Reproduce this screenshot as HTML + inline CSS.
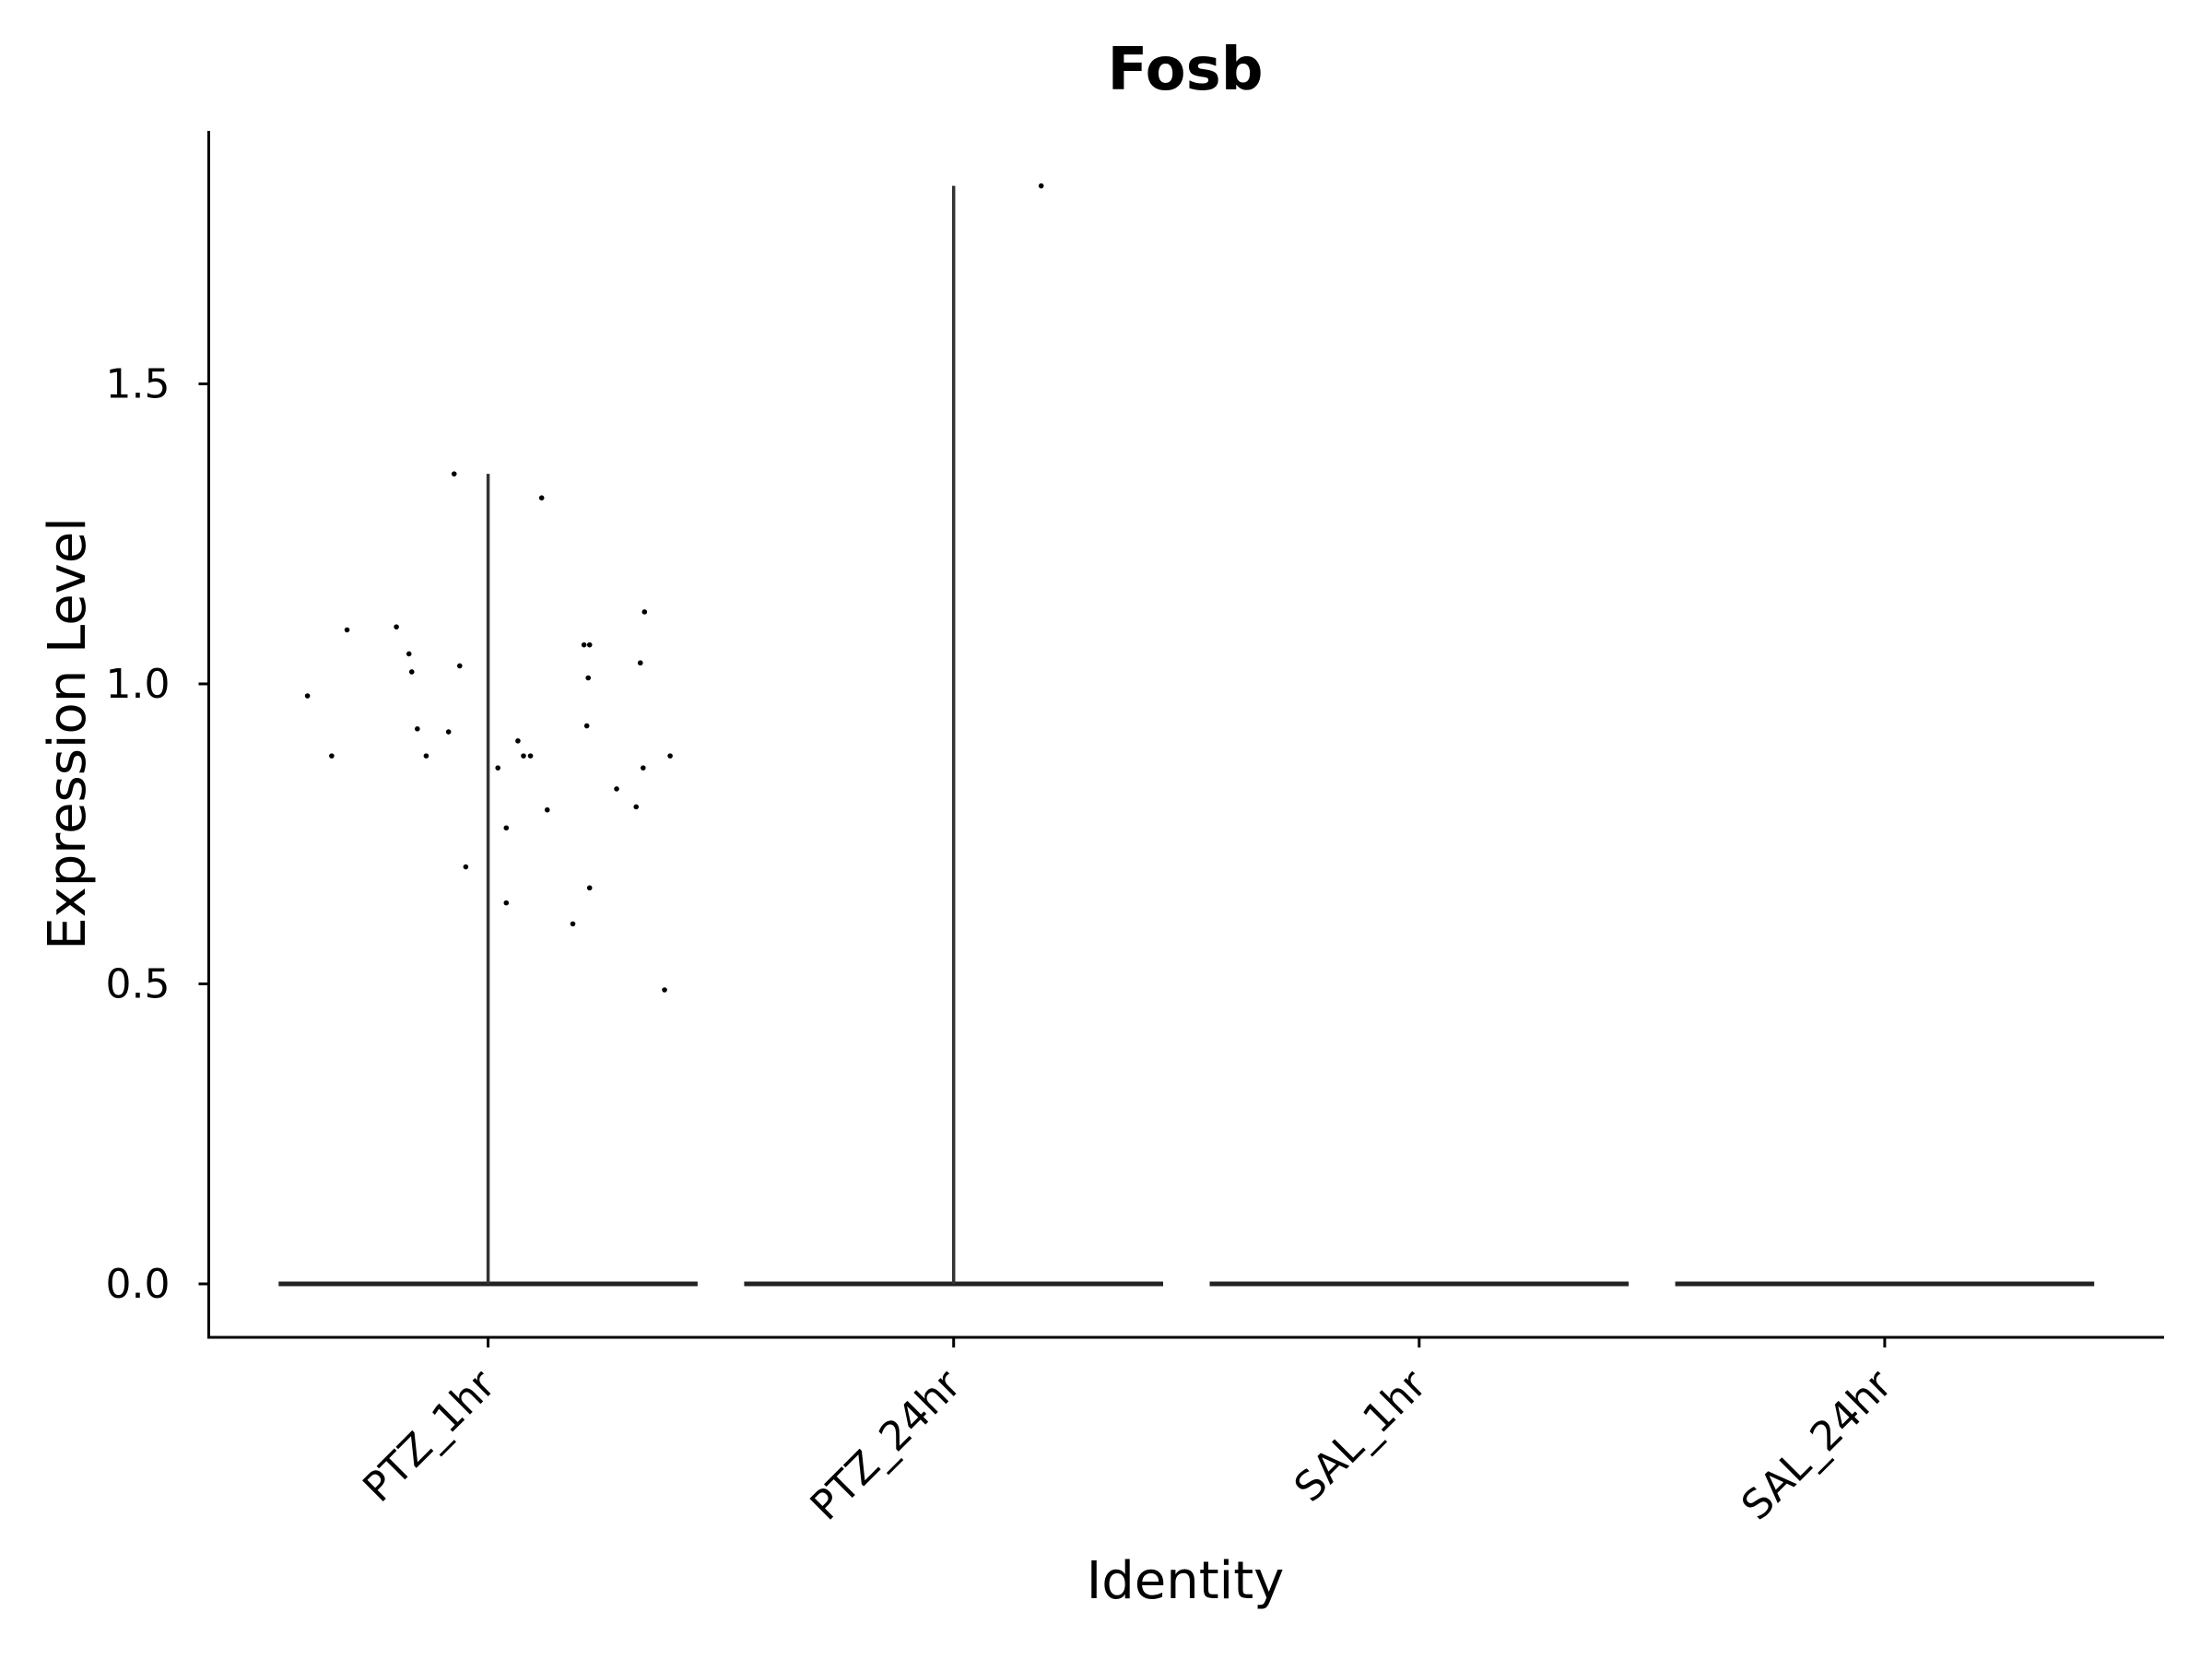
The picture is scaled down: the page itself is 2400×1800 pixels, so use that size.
<!DOCTYPE html>
<html><head><meta charset="utf-8"><style>
html,body{margin:0;padding:0;background:#fff}
svg{display:block;font-family:"DejaVu Sans","Liberation Sans",sans-serif}
</style></head><body>
<svg id="chart" width="2400" height="1800" viewBox="0 0 2400 1800"></svg>
<script>
const categories = ["PTZ_1hr","PTZ_24hr","SAL_1hr","SAL_24hr"];
const violinMax = [1.35, 1.83, 0, 0];
const yTicks = [0.0, 0.5, 1.0, 1.5];
const yTickLabels = ["0.0","0.5","1.0","1.5"];
const pointGroup = [0,0,0,0,0,0,0,0,0,0,0,0,0,0,0,0,0,0,0,0,0,0,0,0,0,0,0,0,0,0,0,0,0,1];
const pointJitter = [-0.388,-0.336,-0.303,-0.197,-0.170,-0.164,-0.152,-0.133,-0.085,-0.073,-0.061,-0.048,0.021,0.039,0.039,0.064,0.076,0.091,0.115,0.127,0.182,0.206,0.212,0.215,0.218,0.218,0.276,0.318,0.327,0.333,0.336,0.379,0.391,0.188];
const pointValues = [0.98,0.88,1.09,1.095,1.05,1.02,0.925,0.88,0.92,1.35,1.03,0.695,0.86,0.76,0.635,0.905,0.88,0.88,1.31,0.79,0.60,1.065,0.93,1.01,1.065,0.66,0.825,0.795,1.035,0.86,1.12,0.49,0.88,1.83];

const svg = document.getElementById('chart');
const NS = 'http://www.w3.org/2000/svg';
const X0 = 226.5, X1 = 2348, Ytop = 142, Yaxis = 1451;
const catX = i => 529.6 + i * 505.1;
const yScale = v => 1393 - v * 651;
const halfW = 0.45 * 505.1;

function mk(tag, attrs, parent) {
  const e = document.createElementNS(NS, tag);
  for (const k in attrs) e.setAttribute(k, attrs[k]);
  (parent || svg).appendChild(e);
  return e;
}

categories.forEach((c, i) => {
  const g = mk('g', {});
  
  
  const cx = catX(i), y0 = yScale(0);
  mk('rect', {x: cx - halfW, y: y0 - 2.5, width: 2 * halfW, height: 5, fill: '#222'}, g);
  if (violinMax[i] > 0) {
    mk('line', {x1: cx, x2: cx, y1: yScale(violinMax[i]), y2: y0, stroke: '#333', 'stroke-width': 3.5}, g);
  }
});

pointValues.forEach((v, k) => {
  const p = mk('circle', {cx: catX(pointGroup[k]) + pointJitter[k] * 505.1, cy: yScale(v), r: 2.8, fill: '#000'});
  
  
});

const yAxis = mk('line', {x1: X0, x2: X0, y1: Ytop, y2: Yaxis, stroke: '#000', 'stroke-width': 3});


const xAxis = mk('line', {x1: X0 - 1.5, x2: X1, y1: Yaxis, y2: Yaxis, stroke: '#000', 'stroke-width': 3});



yTicks.forEach((t, i) => {
  const y = yScale(t);
  mk('line', {x1: X0 - 11, x2: X0, y1: y, y2: y, stroke: '#000', 'stroke-width': 3});
  const tx = mk('text', {x: X0 - 42, y: y + 15, 'text-anchor': 'end', 'font-size': 44, fill: '#000'});
  tx.textContent = yTickLabels[i];
  
  
});

categories.forEach((c, i) => {
  const x = catX(i);
  mk('line', {x1: x, x2: x, y1: Yaxis, y2: Yaxis + 11, stroke: '#000', 'stroke-width': 3});
  const ax = x + 10, ay = Yaxis + 54;
  const tx = mk('text', {x: ax, y: ay, 'text-anchor': 'end', 'font-size': 44, fill: '#000',
    transform: `rotate(-45 ${ax} ${ay})`});
  tx.textContent = c;
  
  
});
</script>
<svg style="position:absolute;left:0;top:0" width="2400" height="1800">
<text x="1286" y="97" text-anchor="middle" font-size="64" font-weight="bold" font-family="DejaVu Sans, Liberation Sans, sans-serif">Fosb</text>
<text x="1286" y="1734" text-anchor="middle" font-size="56" font-family="DejaVu Sans, Liberation Sans, sans-serif">Identity</text>
<text x="92" y="796" text-anchor="middle" font-size="56" font-family="DejaVu Sans, Liberation Sans, sans-serif" transform="rotate(-90 92 796)">Expression Level</text>
</svg>
</body></html>
